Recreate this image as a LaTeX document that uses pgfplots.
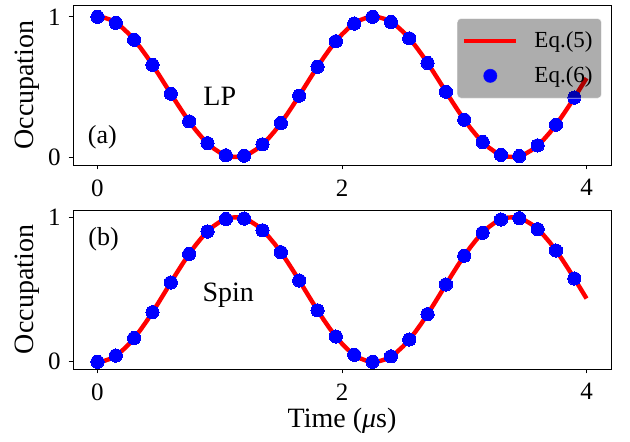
\documentclass[border=0pt]{standalone}
\usepackage{fontspec}
\setmainfont{Liberation Serif}
\usepackage{pgfplots}
\usepackage{pgfplotstable}
\pgfplotsset{compat=1.18}

\pgfplotstableread{
t a b
0.00 1.0000 0.0000
0.05 0.9952 0.0048
0.10 0.9808 0.0192
0.15 0.9571 0.0429
0.20 0.9247 0.0753
0.25 0.8840 0.1160
0.30 0.8360 0.1640
0.35 0.7814 0.2186
0.40 0.7214 0.2786
0.45 0.6571 0.3429
0.50 0.5899 0.4101
0.55 0.5208 0.4792
0.60 0.4514 0.5486
0.65 0.3830 0.6170
0.70 0.3168 0.6832
0.75 0.2540 0.7460
0.80 0.1960 0.8040
0.85 0.1440 0.8560
0.90 0.0988 0.9012
0.95 0.0613 0.9387
1.00 0.0323 0.9677
1.05 0.0123 0.9877
1.10 0.0017 0.9983
1.15 0.0008 0.9992
1.20 0.0094 0.9906
1.25 0.0276 0.9724
1.30 0.0548 0.9452
1.35 0.0906 0.9094
1.40 0.1344 0.8656
1.45 0.1851 0.8149
1.50 0.2420 0.7580
1.55 0.3039 0.6961
1.60 0.3695 0.6305
1.65 0.4376 0.5624
1.70 0.5070 0.4930
1.75 0.5762 0.4238
1.80 0.6439 0.3561
1.85 0.7088 0.2912
1.90 0.7698 0.2302
1.95 0.8254 0.1746
2.00 0.8748 0.1252
2.05 0.9172 0.0828
2.10 0.9514 0.0486
2.15 0.9768 0.0232
2.20 0.9930 0.0070
2.25 0.9998 0.0002
2.30 0.9969 0.0031
2.35 0.9844 0.0156
2.40 0.9626 0.0374
2.45 0.9318 0.0682
2.50 0.8928 0.1072
2.55 0.8461 0.1539
2.60 0.7928 0.2072
2.65 0.7338 0.2662
2.70 0.6703 0.3297
2.75 0.6035 0.3965
2.80 0.5347 0.4653
2.85 0.4653 0.5347
2.90 0.3965 0.6035
2.95 0.3297 0.6703
3.00 0.2662 0.7338
3.05 0.2072 0.7928
3.10 0.1539 0.8461
3.15 0.1072 0.8928
3.20 0.0682 0.9318
3.25 0.0374 0.9626
3.30 0.0156 0.9844
3.35 0.0031 0.9969
3.40 0.0002 0.9998
3.45 0.0070 0.9930
3.50 0.0232 0.9768
3.55 0.0487 0.9513
3.60 0.0828 0.9172
3.65 0.1252 0.8748
3.70 0.1746 0.8254
3.75 0.2302 0.7698
3.80 0.2912 0.7088
3.85 0.3561 0.6439
3.90 0.4238 0.5762
3.95 0.4930 0.5070
4.00 0.5624 0.4376
}\curve

\pgfplotstableread{
t a b
0.00 1.0000 0.0000
0.15 0.9571 0.0429
0.30 0.8360 0.1640
0.45 0.6571 0.3429
0.60 0.4514 0.5486
0.75 0.2540 0.7460
0.90 0.0988 0.9012
1.05 0.0123 0.9877
1.20 0.0094 0.9906
1.35 0.0906 0.9094
1.50 0.2420 0.7580
1.65 0.4376 0.5624
1.80 0.6439 0.3561
1.95 0.8254 0.1746
2.10 0.9514 0.0486
2.25 0.9998 0.0002
2.40 0.9626 0.0374
2.55 0.8461 0.1539
2.70 0.6703 0.3297
2.85 0.4653 0.5347
3.00 0.2662 0.7338
3.15 0.1072 0.8928
3.30 0.0156 0.9844
3.45 0.0070 0.9930
3.60 0.0828 0.9172
3.75 0.2302 0.7698
3.90 0.4238 0.5762
}\pts

\pgfplotsset{
  myax/.style={
    scale only axis, width=269pt, anchor=south west,
    xmin=-0.2, xmax=4.2, xtick={0,2,4}, ytick={0,1},
    tick pos=left, tick align=outside, major tick length=2.2pt,
    axis line style={line width=0.5pt},
    every tick/.style={black, line width=0.5pt},
    tick label style={font=\fontsize{12.5}{14}\selectfont},
    xticklabel style={yshift=-1.5pt},
    yticklabel style={xshift=-0.5pt},
    /pgf/number format/assume math mode=true,
    ylabel={Occupation},
    every axis y label/.style={at={(axis description cs:-0.0855,0.5)}, anchor=center, rotate=90, font=\fontsize{14}{16}\selectfont},
    linestyle/.style={red, line width=2.2pt},
    markstyle/.style={color=blue, only marks, mark=*, mark size=3.3pt, mark options={draw=blue, fill=blue, line width=0pt}},
  }
}

\begin{document}
\begin{tikzpicture}
\useasboundingbox (0,0) rectangle (315pt,220.5pt);

\begin{axis}[myax, at={(36.5pt,138pt)}, height=80pt, ymin=-0.057, ymax=1.084,
  legend style={at={(1,1)}, anchor=north east, xshift=-4.5pt, yshift=-6.5pt,
    fill=black, fill opacity=0.32, draw=white, draw opacity=0.7, text opacity=1,
    rounded corners=2pt, font=\fontsize{11.5}{13}\selectfont,
    inner xsep=2.5pt, inner ysep=4.5pt, row sep=4pt,
    nodes={inner sep=2pt}},
  legend cell align=left]
\addplot[linestyle, legend image code/.code={\draw[red, line width=2.2pt, draw opacity=1] (0pt,0pt) -- (26pt,0pt);}] table[x=t, y=a] {\curve};
\addlegendentry{\hspace{6pt}Eq.(5)\hspace{2pt}}
\addplot[markstyle, legend image code/.code={\fill[blue, fill opacity=1] (13pt,0pt) circle (3.3pt);}] table[x=t, y=a] {\pts};
\addlegendentry{\hspace{6pt}Eq.(6)\hspace{2pt}}
\node[font=\fontsize{14}{16}\selectfont] at (axis cs:1.0,0.43) {LP};
\node[font=\fontsize{13}{15}\selectfont] at (axis cs:0.04,0.14) {(a)};
\end{axis}

\begin{axis}[myax, at={(36.5pt,36pt)}, height=79.5pt, ymin=-0.05, ymax=1.05,
  xlabel={Time (\textit{μ}s)},
  every axis x label/.style={at={(axis description cs:0.5,-0.327)}, anchor=center, font=\fontsize{14}{16}\selectfont}]
\addplot[linestyle] table[x=t, y=b] {\curve};
\addplot[markstyle] table[x=t, y=b] {\pts};
\node[font=\fontsize{14}{16}\selectfont] at (axis cs:1.07,0.46) {Spin};
\node[font=\fontsize{13}{15}\selectfont] at (axis cs:0.05,0.847) {(b)};
\end{axis}
\end{tikzpicture}
\end{document}
